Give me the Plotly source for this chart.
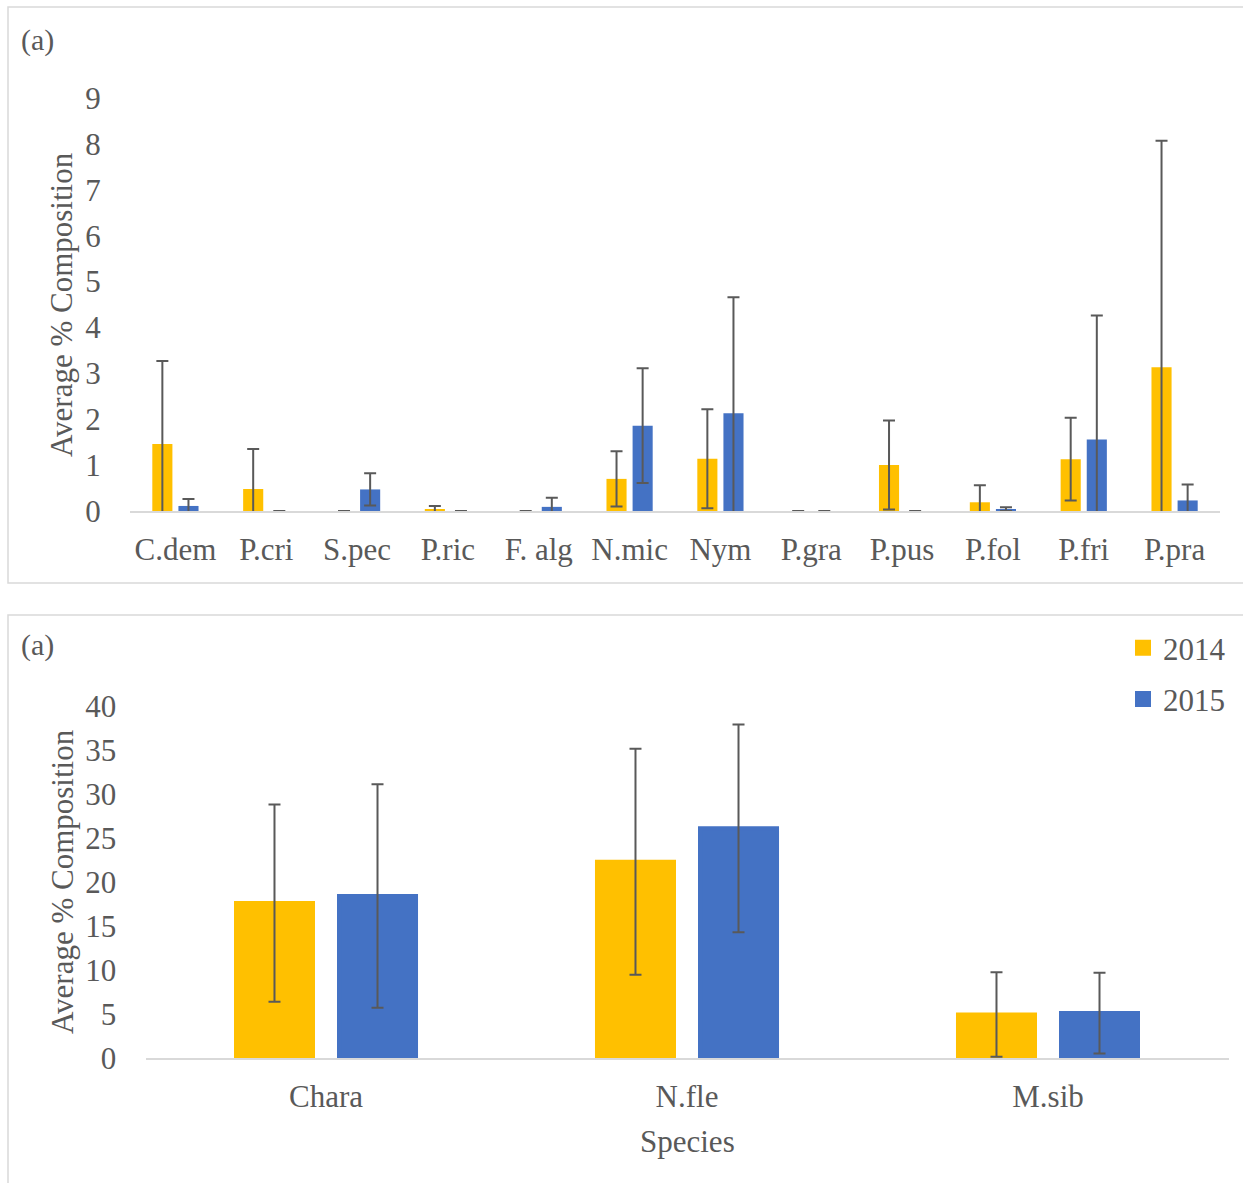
import plotly.graph_objects as go

# Canvas size in pixels
W, H = 1243, 1183

# Panel 1: minor species
top_species = ["C.dem", "P.cri", "S.pec", "P.ric", "F. alg", "N.mic",
               "Nym", "P.gra", "P.pus", "P.fol", "P.fri", "P.pra"]
top_2014 = [1.46, 0.48, 0.0, 0.03, 0.0, 0.70, 1.14, 0.0, 1.00, 0.19, 1.13, 3.13]
top_2014_err = [1.81, 0.87, 0.0, 0.08, 0.0, 0.60, 1.08, 0.0, 0.97, 0.37, 0.90, 4.94]
top_2015 = [0.11, 0.0, 0.47, 0.0, 0.09, 1.86, 2.13, 0.0, 0.0, 0.04, 1.56, 0.23]
top_2015_err = [0.15, 0.0, 0.35, 0.0, 0.20, 1.25, 2.53, 0.0, 0.0, 0.04, 2.70, 0.35]
top_ticks = list(range(0, 10))

# Panel 2: dominant species
bottom_species = ["Chara", "N.fle", "M.sib"]
bottom_2014 = [17.6, 22.3, 4.95]
bottom_2014_err = [11.2, 12.85, 4.8]
bottom_2015 = [18.4, 26.1, 5.1]
bottom_2015_err = [12.7, 11.8, 4.6]
bottom_ticks = list(range(0, 45, 5))

YELLOW = "#FFC000"
BLUE = "#4472C4"
TEXT = "#595959"
AXIS = "#D9D9D9"
FONT = "Liberation Serif"
FS = 31

# Bottom panel bars carry a same-colour outline (this also enlarges the
# legend swatches); width/offset are in category units and account for it.
B_OUTLINE = 4
B_WIDTH = 0.2133
B_SHIFT = 0.1427


def px(x):
    return x / W


def py(y):
    return 1 - y / H


def err(values):
    return dict(type="data", array=values, symmetric=True,
                color=TEXT, thickness=2, width=6)


fig = go.Figure()

fig.add_trace(go.Bar(x=top_species, y=top_2014, error_y=err(top_2014_err),
                     marker=dict(color=YELLOW, line=dict(width=0)),
                     name="2014", showlegend=False, xaxis="x", yaxis="y"))
fig.add_trace(go.Bar(x=top_species, y=top_2015, error_y=err(top_2015_err),
                     marker=dict(color=BLUE, line=dict(width=0)),
                     name="2015", showlegend=False, xaxis="x", yaxis="y"))

fig.add_trace(go.Bar(x=bottom_species, y=bottom_2014, error_y=err(bottom_2014_err),
                     marker=dict(color=YELLOW, line=dict(width=B_OUTLINE, color=YELLOW)),
                     width=B_WIDTH, offset=-B_SHIFT - B_WIDTH / 2,
                     name="2014", legendgroup="a", xaxis="x2", yaxis="y2"))
fig.add_trace(go.Bar(x=bottom_species, y=bottom_2015, error_y=err(bottom_2015_err),
                     marker=dict(color=BLUE, line=dict(width=B_OUTLINE, color=BLUE)),
                     width=B_WIDTH, offset=B_SHIFT - B_WIDTH / 2,
                     name="2015", legendgroup="b", xaxis="x2", yaxis="y2"))

tick_font = dict(family=FONT, size=FS, color=TEXT)

xcommon = dict(showline=True, linecolor=AXIS, linewidth=2, showgrid=False,
               zeroline=False, ticks="outside", ticklen=10, automargin=False,
               tickcolor="rgba(0,0,0,0)", tickfont=tick_font, fixedrange=True)
ycommon = dict(showline=False, showgrid=False, zeroline=False,
               ticks="outside", ticklen=22, tickcolor="rgba(0,0,0,0)",
               automargin=False, tickfont=tick_font, fixedrange=True)

fig.update_layout(
    template="none",
    width=W, height=H,
    margin=dict(l=0, r=0, t=0, b=0, pad=0, autoexpand=False),
    paper_bgcolor="white", plot_bgcolor="white",
    barmode="group", bargap=0.425, bargroupgap=0.23,
    font=dict(family=FONT, size=FS, color=TEXT),
    xaxis=dict(domain=[px(130), px(1220)], anchor="y", **xcommon),
    yaxis=dict(domain=[py(511), py(98)], anchor="x", range=[0, 9],
               tickvals=top_ticks, **ycommon),
    xaxis2=dict(domain=[px(145.5), px(1228.5)], anchor="y2", **xcommon),
    yaxis2=dict(domain=[py(1058), py(706)], anchor="x2", range=[0, 40],
                tickvals=bottom_ticks, **ycommon),
    legend=dict(x=px(1231), y=py(621), xanchor="right", yanchor="top",
                font=dict(family=FONT, size=FS, color=TEXT),
                bgcolor="rgba(0,0,0,0)", borderwidth=0, tracegroupgap=8,
                itemclick=False, itemdoubleclick=False),
    shapes=[
        dict(type="rect", xref="paper", yref="paper",
             x0=px(8), x1=px(1260), y0=py(7), y1=py(583),
             line=dict(color=AXIS, width=1.5), fillcolor="rgba(0,0,0,0)"),
        dict(type="rect", xref="paper", yref="paper",
             x0=px(8), x1=px(1260), y0=py(615), y1=py(1200),
             line=dict(color=AXIS, width=1.5), fillcolor="rgba(0,0,0,0)"),
    ],
    annotations=[
        dict(text="(a)", x=px(19), y=py(40), xref="paper", yref="paper",
             xanchor="left", yanchor="middle", showarrow=False,
             font=dict(family=FONT, size=FS - 1, color=TEXT)),
        dict(text="(a)", x=px(19), y=py(645), xref="paper", yref="paper",
             xanchor="left", yanchor="middle", showarrow=False,
             font=dict(family=FONT, size=FS - 1, color=TEXT)),
        dict(text="Average % Composition", x=px(62), y=py(305),
             xref="paper", yref="paper", textangle=-90,
             xanchor="center", yanchor="middle", showarrow=False,
             font=dict(family=FONT, size=FS, color=TEXT)),
        dict(text="Average % Composition", x=px(62), y=py(882),
             xref="paper", yref="paper", textangle=-90,
             xanchor="center", yanchor="middle", showarrow=False,
             font=dict(family=FONT, size=FS, color=TEXT)),
        dict(text="Species", x=px(687), y=py(1141),
             xref="paper", yref="paper",
             xanchor="center", yanchor="middle", showarrow=False,
             font=dict(family=FONT, size=FS, color=TEXT)),
    ],
)

fig.write_html("out.html", config=dict(displayModeBar=False))
